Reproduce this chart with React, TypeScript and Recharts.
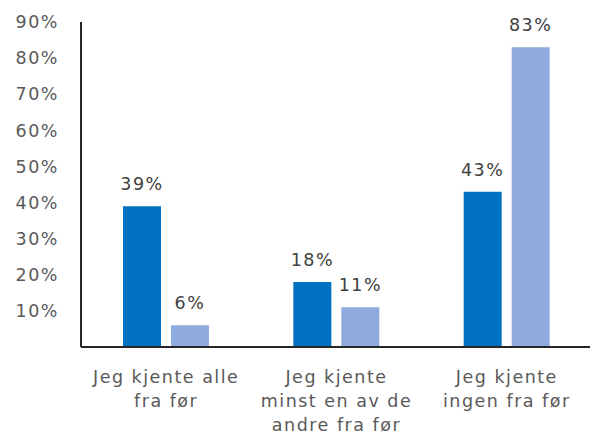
import { BarChart, Bar, XAxis, YAxis, LabelList } from "recharts";

const categories = [
  "Jeg kjente alle\nfra før",
  "Jeg kjente\nminst en av de\nandre fra før",
  "Jeg kjente\ningen fra før",
];
const seriesA = [39, 18, 43];
const seriesB = [6, 11, 83];
const yTicks = [10, 20, 30, 40, 50, 60, 70, 80, 90];

const data = categories.map((name, i) => ({
  name,
  a: seriesA[i],
  b: seriesB[i],
}));

const font = "'DejaVu Sans', sans-serif";
const textStyle = { fontSize: 17.5, fontFamily: font, letterSpacing: 1.5 };

function CategoryTick(props: any) {
  const { x, y, payload } = props;
  const lines = String(payload.value).split("\n");
  return (
    <text x={x} y={y} textAnchor="middle" fill="#595959" style={textStyle}>
      {lines.map((line, i) => (
        <tspan key={i} x={x} dy={i === 0 ? 28 : 24}>
          {line}
        </tspan>
      ))}
    </text>
  );
}

export default function App() {
  return (
    <div style={{ position: "absolute", left: 0, top: 0, background: "#fff" }}>
      <BarChart
        width={592}
        height={437}
        data={data}
        margin={{ top: 22, right: 0, left: 0, bottom: 0 }}
        barSize={38}
        barGap={10}
      >
        <XAxis
          dataKey="name"
          axisLine={{ stroke: "#262626", strokeWidth: 2 }}
          tickLine={false}
          tick={<CategoryTick />}
          interval={0}
          height={90}
        />
        <YAxis
          domain={[0, 90]}
          ticks={yTicks}
          tickFormatter={(v) => `${v}%`}
          axisLine={{ stroke: "#262626", strokeWidth: 2 }}
          tickLine={false}
          width={81}
          tickMargin={16}
          tick={{ fill: "#595959", ...textStyle }}
        />
        <Bar dataKey="a" fill="#0070C0" isAnimationActive={false}>
          <LabelList
            dataKey="a"
            position="top"
            offset={16}
            formatter={(v: any) => `${v}%`}
            fill="#404040"
            style={textStyle}
          />
        </Bar>
        <Bar dataKey="b" fill="#8FAADC" isAnimationActive={false}>
          <LabelList
            dataKey="b"
            position="top"
            offset={16}
            formatter={(v: any) => `${v}%`}
            fill="#404040"
            style={textStyle}
          />
        </Bar>
      </BarChart>
    </div>
  );
}
